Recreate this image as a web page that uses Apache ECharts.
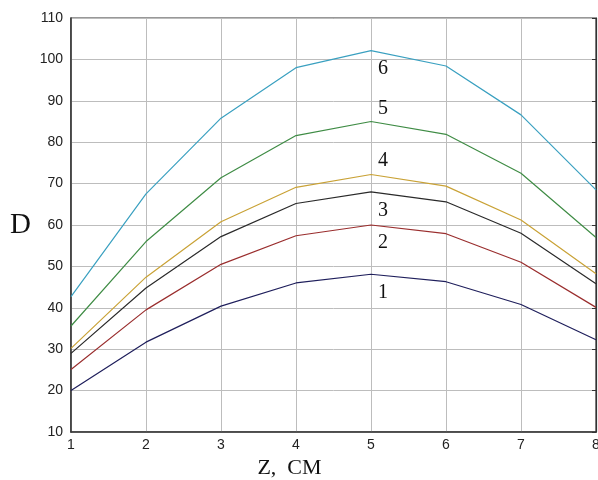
<!DOCTYPE html>
<html>
<head>
<meta charset="utf-8">
<script src="https://cdn.jsdelivr.net/npm/echarts@6/dist/echarts.min.js"></script>
<style>
  html, body { margin: 0; padding: 0; background: #fff; }
  #chart { width: 598px; height: 480px; }
</style>
</head>
<body>
<div id="chart"></div>
<script>
// Z positions (cm)
var zValues = [1, 2, 3, 4, 5, 6, 7, 8];

// D values for curves 1..6
var curve1 = [20, 31.7, 40.4, 46, 48.1, 46.3, 40.8, 32.3];
var curve2 = [25.1, 39.5, 50.5, 57.4, 60, 57.9, 51, 40.1];
var curve3 = [29, 44.8, 57.2, 65.2, 68, 65.6, 58, 45.8];
var curve4 = [30.2, 47.4, 60.8, 69.1, 72.2, 69.4, 61.2, 48.2];
var curve5 = [35.6, 56, 71.4, 81.6, 85, 81.9, 72.5, 57];
var curve6 = [42.7, 67.5, 85.8, 98, 102.1, 98.4, 86.6, 68.5];

var curveNames = ['1', '2', '3', '4', '5', '6'];
var curves = [curve1, curve2, curve3, curve4, curve5, curve6];

// line colours and label offsets (px) relative to each curve's peak
var colors = ['#1f1f5c', '#9a2e2e', '#2a2a2a', '#c9a236', '#3f8c45', '#3aa0c0'];
var labelOffsets = [[12, 18], [12, 18], [12, 19], [12, -14], [12, -13], [12, 18]];

var peakIndex = 4;

var series = curves.map(function (vals, i) {
  return {
    name: curveNames[i],
    type: 'line',
    data: zValues.map(function (z, k) { return [z, vals[k]]; }),
    showSymbol: false,
    symbol: 'none',
    lineStyle: { color: colors[i], width: 1.2 },
    itemStyle: { color: colors[i] },
    z: 3,
    markPoint: {
      symbol: 'circle',
      symbolSize: 0,
      silent: true,
      data: [{ coord: [zValues[peakIndex], vals[peakIndex]] }],
      label: {
        show: true,
        formatter: curveNames[i],
        position: 'inside',
        offset: labelOffsets[i],
        color: '#111',
        fontFamily: 'Liberation Serif, Times New Roman, serif',
        fontSize: 20
      }
    }
  };
});

var chart = echarts.init(document.getElementById('chart'), null, { renderer: 'canvas' });
chart.setOption({
  animation: false,
  backgroundColor: '#fff',
  grid: {
    left: 71, right: 2, top: 18, bottom: 48,
    outerBoundsMode: 'none',
    containLabel: false,
    show: true, borderColor: '#333', borderWidth: 1.2, backgroundColor: 'transparent'
  },
  xAxis: {
    type: 'value',
    min: 1, max: 8, interval: 1,
    name: 'Z,  СМ',
    nameLocation: 'middle',
    nameGap: 24,
    nameTextStyle: {
      fontFamily: 'Liberation Serif, Times New Roman, serif',
      fontSize: 22, color: '#111',
      padding: [0, 88, 0, 0]
    },
    axisLine: { show: true, lineStyle: { color: '#333', width: 1.5 } },
    axisTick: { show: false },
    axisLabel: {
      color: '#222', fontSize: 14, margin: 6,
      fontFamily: 'Liberation Sans, Arial, sans-serif'
    },
    splitLine: { show: true, lineStyle: { color: '#bdbdbd', width: 1 } }
  },
  yAxis: [{
    type: 'value',
    min: 10, max: 110, interval: 10,
    name: 'D',
    nameLocation: 'middle',
    nameGap: 40,
    nameRotate: 0,
    nameTextStyle: {
      fontFamily: 'Liberation Serif, Times New Roman, serif',
      fontSize: 29, color: '#111',
      padding: [10, 0, 0, 0]
    },
    axisLine: { show: true, lineStyle: { color: '#333', width: 1.5 } },
    axisTick: { show: false },
    axisLabel: {
      color: '#222', fontSize: 14, margin: 8,
      fontFamily: 'Liberation Sans, Arial, sans-serif'
    },
    splitLine: { show: true, lineStyle: { color: '#bdbdbd', width: 1 } }
  }, {
    type: 'value',
    position: 'right',
    min: 10, max: 110, interval: 10,
    axisLine: { show: true, lineStyle: { color: '#333', width: 1.2 } },
    axisTick: { show: true, inside: true, length: 4, lineStyle: { color: '#333' } },
    axisLabel: { show: false },
    splitLine: { show: false }
  }],
  series: series
});
</script>
</body>
</html>
